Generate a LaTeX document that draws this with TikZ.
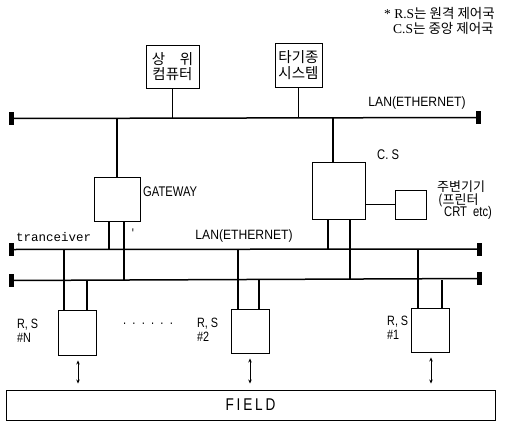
\documentclass[tikz,border=0pt]{standalone}
\usepackage{fontspec}
\setmainfont{Liberation Serif}
\newfontfamily\kr{Noto Sans CJK KR}
\newfontfamily\lab[FakeStretch=0.8]{Liberation Sans}
\newfontfamily\lanfont[FakeStretch=0.9]{Liberation Sans}
\newfontfamily\mono{Liberation Mono}
\usetikzlibrary{arrows.meta,calc}
\begin{document}
\begin{tikzpicture}[x=1pt,y=-1pt,
  box/.style={draw,line width=0.9pt,inner sep=0pt},
  lan/.style={line width=1.5pt},
  wire/.style={line width=1.1pt},
  term/.style={fill=black,draw=none,inner sep=0pt,minimum width=5pt,minimum height=13pt},
  lbl/.style={font=\lab\fontsize{14}{15}\selectfont,inner sep=0pt},
  lanlbl/.style={font=\lanfont\fontsize{13.5}{14}\selectfont,inner sep=0pt},
  rslbl/.style={font=\lab\fontsize{13.5}{14}\selectfont,inner sep=0pt,anchor=west},
  krbox/.style={box,font=\kr\fontsize{14.5}{15.5}\selectfont,align=center},
  arr/.style={line width=0.8pt,{Stealth[length=4pt,width=3.5pt]}-{Stealth[length=4pt,width=3.5pt]}}
]
\useasboundingbox (0,0) rectangle (512,421);

% header note
\node[anchor=west,inner sep=0pt,font=\fontsize{13.5}{13.5}\selectfont] (note1) at (384,13) {* R.S{\kr 는 원격 제어국}};
\node[anchor=west,inner sep=0pt,font=\fontsize{13.5}{13.5}\selectfont] (note2) at (393,28) {C.S{\kr 는 중앙 제어국}};

% top boxes
\node[krbox,minimum width=53pt,minimum height=43pt] (up) at (172.5,66.5) {상\hspace{1em}위\\컴퓨터};
\node[krbox,minimum width=47pt,minimum height=44pt] (oth) at (298.5,65) {타기종\\시스템};

% LAN lines with terminators
\node[term] (t1w) at (11.5,118.5) {};
\node[term] (t1e) at (478,117.5) {};
\node[term] (t2w) at (11.5,249.5) {};
\node[term] (t2e) at (479.5,249) {};
\node[term] (t3w) at (11.5,280.5) {};
\node[term] (t3e) at (479.5,278.5) {};
\draw[lan] (t1w.center) -- (t1e.center);
\draw[lan] (t2w.center) -- (t2e.center);
\draw[lan] (t3w.center) -- (t3e.center);
\coordinate (l1) at (12,118);
\coordinate (l2) at (12,249);
\coordinate (l3) at (12,280);

\node[lanlbl] (lanA) at (417,103) {LAN(ETHERNET)};
\node[lanlbl] (lanB) at (244,236) {LAN(ETHERNET)};
\node[anchor=west,inner sep=0pt,font=\mono\fontsize{12.5}{12.5}\selectfont] (trc) at (16,237) {tranceiver};

% gateway and central station
\node[box,minimum width=46pt,minimum height=44pt] (gw) at (117,199) {};
\node[lbl,anchor=west] (gwl) at (143,192) {GATEWAY};
\node[box,minimum width=53pt,minimum height=57pt] (cs) at (338.5,190.5) {};
\node[lbl,anchor=west] (csl) at (377,155) {C. S};
\node[box,minimum width=31pt,minimum height=29pt] (per) at (410.5,204.5) {};
\node[anchor=west,inner sep=0pt,font=\kr\fontsize{13}{13}\selectfont] (perA) at (437,187) {주변기기};
\node[anchor=west,inner sep=0pt,font=\kr\fontsize{13}{13}\selectfont] (perB) at (438,200) {(프린터};
\node[anchor=west,inner sep=0pt,font=\lab\fontsize{14}{14}\selectfont] (perC) at (444,213) {CRT\ \ etc)};

\draw[wire] (up.south) -- (up.south |- l1);
\draw[wire] (oth.south) -- (oth.south |- l1);
\draw[wire] (gw.north) -- (gw.north |- l1);
\coordinate (csin) at ([xshift=-5.5pt]cs.north);
\draw[wire] (csin) -- (csin |- l1);
\coordinate (g1) at ([xshift=-8pt]gw.south);
\coordinate (g2) at ([xshift=7pt]gw.south);
\draw[wire] (g1) -- (g1 |- l2);
\draw[wire] (g2) -- (g2 |- l3);
\coordinate (c1) at ([xshift=-10.5pt]cs.south);
\coordinate (c2) at ([xshift=11.5pt]cs.south);
\draw[wire] (c1) -- (c1 |- l2);
\draw[wire] (c2) -- (c2 |- l3);
\draw[wire] (per.west) -- (per.west -| cs.east);
\node[lbl] (tick) at (133,234) {'};

% remote stations
\node[box,minimum width=38pt,minimum height=45pt] (rsN) at (77,332.5) {};
\node[box,minimum width=38pt,minimum height=44pt] (rs2) at (250,331) {};
\node[box,minimum width=38pt,minimum height=44pt] (rs1) at (430,330) {};
\node[rslbl] (rsNa) at (17,325) {R, S};
\node[rslbl] (rsNb) at (17,338) {\#N};
\node[rslbl] (rs2a) at (197,324) {R, S};
\node[rslbl] (rs2b) at (197,337) {\#2};
\node[rslbl] (rs1a) at (387,322) {R, S};
\node[rslbl] (rs1b) at (387,335) {\#1};
\node[lbl] (dots) at (148,324) {.\ \ .\ \ .\ \ .\ \ .\ \ .};

\foreach \b/\p/\q in {rsN/-13/10, rs2/-12/9, rs1/-12/12}{
  \coordinate (a) at ([xshift=\p pt]\b.north);
  \coordinate (b) at ([xshift=\q pt]\b.north);
  \draw[wire] (a) -- (a |- l2);
  \draw[wire] (b) -- (b |- l3);
}

% field
\node[box,minimum width=489pt,minimum height=30pt,font=\lab\fontsize{17}{17}\selectfont] (field) at (250.5,405) {F\,I\,E\,L\,D};
\draw[arr] ($(rsN.south)+(1,5)$) -- ($(rsN.south |- field.north)+(1,-6)$);
\draw[arr] ($(rs2.south)+(0,5)$) -- ($(rs2.south |- field.north)+(0,-6)$);
\draw[arr] ($(rs1.south)+(1,5)$) -- ($(rs1.south |- field.north)+(1,-6)$);
\end{tikzpicture}
\end{document}
